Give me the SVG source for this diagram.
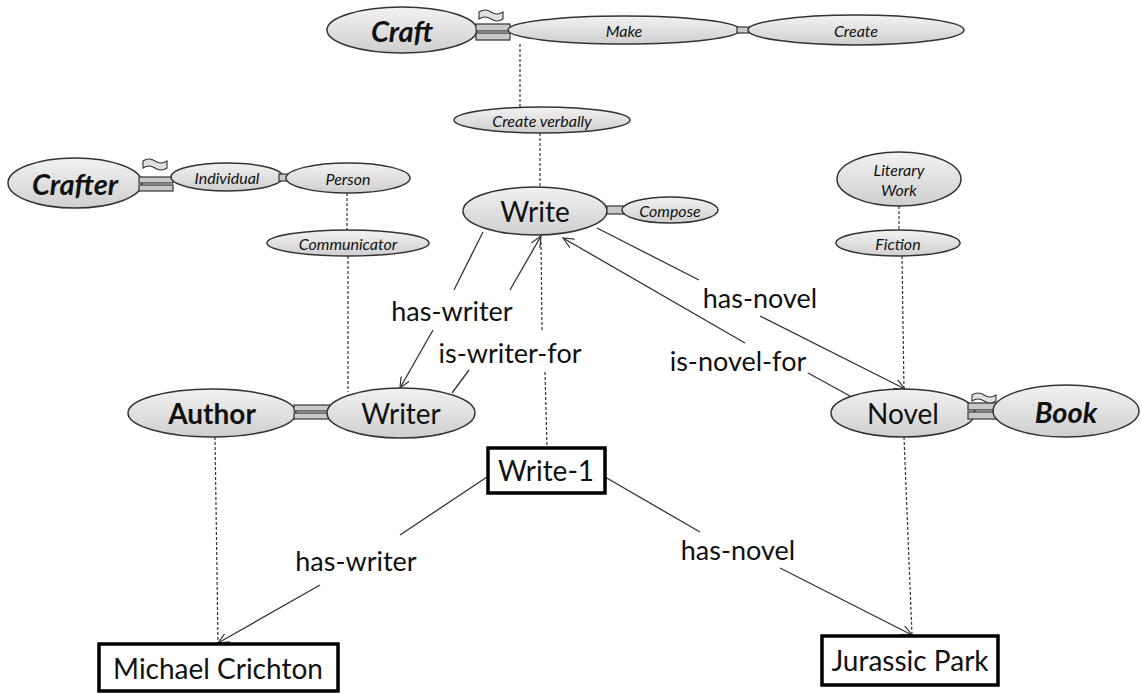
<svg xmlns="http://www.w3.org/2000/svg" width="1142" height="694" viewBox="0 0 1142 694">
<defs>
<linearGradient id="g" x1="0" y1="0" x2="0" y2="1">
<stop offset="0" stop-color="#f2f2f2"/>
<stop offset="1" stop-color="#cfcfcf"/>
</linearGradient>
<marker id="arr" viewBox="0 0 12 10" refX="11" refY="5" markerWidth="12" markerHeight="10" markerUnits="userSpaceOnUse" orient="auto">
<path d="M0,0 L11,5 L0,10" fill="none" stroke="#333" stroke-width="1.2"/>
</marker>
</defs>
<style>
.e{fill:url(#g);stroke:#333;stroke-width:1.5}
.eq{fill:#c8c8c8;stroke:#333;stroke-width:1.2}
.tl{fill:#e0e0e0;stroke:#333;stroke-width:1.1}
.t{font-family:Lato,"Liberation Sans",sans-serif;fill:#111;text-anchor:middle;dominant-baseline:central}
.big{font-size:28px}
.bi{font-size:29px;font-weight:bold;font-style:italic}
.b{font-size:28px;font-weight:bold}
.sm{font-size:16px;font-style:italic}
.lbl{font-family:Lato,"Liberation Sans",sans-serif;font-size:27px;fill:#111;text-anchor:middle;dominant-baseline:central}
.ln{stroke:#333;stroke-width:1.3;fill:none}
.d{stroke:#333;stroke-width:1.2;stroke-dasharray:3,2;fill:none}
.box{fill:#fff;stroke:#000;stroke-width:3.5}
</style>
<g id="connectors">
<line class="d" x1="520" y1="44" x2="520" y2="107"/>
<line class="d" x1="540" y1="133" x2="540" y2="187"/>
<line class="d" x1="347" y1="193" x2="347" y2="230"/>
<line class="d" x1="348" y1="256" x2="348" y2="392"/>
<line class="d" x1="899" y1="206" x2="899" y2="230"/>
<line class="d" x1="902" y1="256" x2="904" y2="389"/>
<line class="d" x1="215" y1="437" x2="218" y2="643"/>
<line class="d" x1="904" y1="437" x2="912" y2="635"/>
<polyline class="d" points="541,242 542,330"/>
<polyline class="d" points="545,372 547,447"/>
<line class="ln" x1="483" y1="232" x2="454" y2="290"/>
<line class="ln" x1="433" y1="330" x2="400" y2="388" marker-end="url(#arr)"/>
<line class="ln" x1="452" y1="393" x2="469" y2="370"/>
<line class="ln" x1="510" y1="290" x2="541" y2="236" marker-end="url(#arr)"/>
<line class="ln" x1="597" y1="228" x2="699" y2="280"/>
<line class="ln" x1="760" y1="316" x2="905" y2="389" marker-end="url(#arr)"/>
<line class="ln" x1="745" y1="343" x2="563" y2="238" marker-end="url(#arr)"/>
<line class="ln" x1="850" y1="396" x2="808" y2="373"/>
<line class="ln" x1="487" y1="477" x2="400" y2="535"/>
<line class="ln" x1="320" y1="585" x2="218" y2="643" marker-end="url(#arr)"/>
<line class="ln" x1="605" y1="477" x2="700" y2="532"/>
<line class="ln" x1="780" y1="568" x2="912" y2="635" marker-end="url(#arr)"/>
<text class="lbl" x="452" y="310">has-writer</text>
<text class="lbl" x="510" y="352">is-writer-for</text>
<text class="lbl" x="760" y="297">has-novel</text>
<text class="lbl" x="738" y="360">is-novel-for</text>
<text class="lbl" x="356" y="560">has-writer</text>
<text class="lbl" x="738" y="549">has-novel</text>
</g>
<g id="craft">
<ellipse class="e" cx="402" cy="30" rx="75" ry="23"/>
<text class="t bi" x="402" y="30">Craft</text>
<rect class="eq" x="476" y="24" width="34" height="7"/>
<rect class="eq" x="476" y="33" width="34" height="7"/>
<path class="tl" d="M479,12 Q485,8 491,12 T503,12 L503,19 Q497,23 491,19 T479,19 Z"/>
</g>
<g id="make">
<ellipse class="e" cx="624" cy="30" rx="116" ry="14"/>
<text class="t sm" x="624" y="30">Make</text>
</g>
<rect class="eq" x="737" y="27" width="13" height="6"/>
<g id="create">
<ellipse class="e" cx="856" cy="30" rx="108" ry="15"/>
<text class="t sm" x="856" y="30">Create</text>
</g>
<g id="create-verbally">
<ellipse class="e" cx="542" cy="120" rx="88" ry="13"/>
<text class="t sm" x="542" y="120">Create verbally</text>
</g>
<g id="write">
<ellipse class="e" cx="535" cy="211" rx="72" ry="24"/>
<text class="t big" x="535" y="211">Write</text>
</g>
<rect class="eq" x="607" y="206" width="17" height="8"/>
<g id="compose">
<ellipse class="e" cx="670" cy="210" rx="48" ry="13"/>
<text class="t sm" x="670" y="210">Compose</text>
</g>
<g id="crafter">
<ellipse class="e" cx="75" cy="183" rx="67" ry="25"/>
<text class="t bi" x="75" y="183">Crafter</text>
<rect class="eq" x="139" y="177" width="34" height="6"/>
<rect class="eq" x="139" y="185" width="34" height="6"/>
<path class="tl" d="M143,161 Q149,157 155,161 T167,161 L167,168 Q161,172 155,168 T143,168 Z"/>
</g>
<g id="individual">
<ellipse class="e" cx="227" cy="177" rx="56" ry="14"/>
<text class="t sm" x="227" y="177">Individual</text>
</g>
<rect class="eq" x="279" y="174" width="11" height="7"/>
<g id="person">
<ellipse class="e" cx="348" cy="178" rx="62" ry="15"/>
<text class="t sm" x="348" y="178">Person</text>
</g>
<g id="communicator">
<ellipse class="e" cx="348" cy="243" rx="81" ry="13"/>
<text class="t sm" x="348" y="243">Communicator</text>
</g>
<g id="literary-work">
<ellipse class="e" cx="899" cy="179" rx="62" ry="27"/>
<text class="t sm" x="899" y="169">Literary</text>
<text class="t sm" x="899" y="189">Work</text>
</g>
<g id="fiction">
<ellipse class="e" cx="898" cy="243" rx="62" ry="13"/>
<text class="t sm" x="898" y="243">Fiction</text>
</g>
<g id="author">
<ellipse class="e" cx="212" cy="413" rx="84" ry="24"/>
<text class="t b" x="212" y="413">Author</text>
<rect class="eq" x="294" y="405" width="36" height="6"/>
<rect class="eq" x="294" y="413" width="36" height="6"/>
</g>
<g id="writer">
<ellipse class="e" cx="401" cy="413" rx="74" ry="25"/>
<text class="t big" x="401" y="413">Writer</text>
</g>
<g id="novel">
<ellipse class="e" cx="903" cy="413" rx="72" ry="24"/>
<text class="t big" x="903" y="413">Novel</text>
<rect class="eq" x="968" y="403" width="32" height="7"/>
<rect class="eq" x="968" y="412" width="32" height="7"/>
<path class="tl" d="M972,395 Q978,391 984,395 T996,395 L996,401 Q990,405 984,401 T972,401 Z"/>
</g>
<g id="book">
<ellipse class="e" cx="1066" cy="411" rx="73" ry="26"/>
<text class="t bi" x="1066" y="411">Book</text>
</g>
<g id="write-1">
<rect class="box" x="488" y="448" width="117" height="45"/>
<text class="t big" x="546" y="470">Write-1</text>
</g>
<g id="michael-crichton">
<rect class="box" x="99" y="644" width="239" height="47"/>
<text class="t big" x="218" y="668">Michael Crichton</text>
</g>
<g id="jurassic-park">
<rect class="box" x="822" y="636" width="176" height="49"/>
<text class="t big" x="910" y="660">Jurassic Park</text>
</g>
</svg>
